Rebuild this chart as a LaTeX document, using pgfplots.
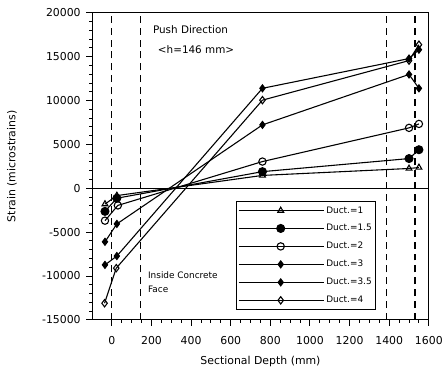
\documentclass[border=0pt]{standalone}
\usepackage{fontspec}
\setmainfont{DejaVu Sans}
\usepackage{pgfplots}
\pgfplotsset{compat=1.18}
\begin{document}
\begin{tikzpicture}[font=\fontsize{11}{13}\selectfont]
\begin{axis}[
  width=340pt, height=310pt, scale only axis,
  xmin=-100, xmax=1600, ymin=-15000, ymax=20000,
  xtick={0,200,...,1600}, ytick={-15000,-10000,...,20000},
  minor x tick num=3, minor y tick num=4,
  tick align=outside, tick pos=left,
  major tick length=6pt, minor tick length=3pt,
  scaled y ticks=false,
  /pgf/number format/assume math mode=true,
  /pgf/number format/set thousands separator={},
  xticklabel style={yshift=-7pt},
  yticklabel style={xshift=-2pt},
  xlabel={Sectional Depth (mm)}, ylabel={Strain (microstrains)},
  xlabel style={font=\fontsize{11}{13}\selectfont, at={(axis description cs:0.5,-0.135)}, anchor=center},
  ylabel style={font=\fontsize{11}{13}\selectfont, at={(axis description cs:-0.238,0.5)}, anchor=center},
  axis line style={line width=1.1pt},
  every tick/.style={black, line width=1pt},
  legend style={at={(0.426,0.387)}, anchor=north west, font=\fontsize{9}{11}\selectfont,
    row sep=6pt, draw=black, line width=1.1pt, inner xsep=2pt, inner ysep=3pt},
  legend cell align=left,
  legend image code/.code={\path (0pt,0pt) -- (86pt,0pt);
    \draw[mark repeat=2,mark phase=2] plot coordinates {(8pt,0pt)(42.5pt,0pt)(77pt,0pt)};},
  clip=false,
]
\path (axis description cs:0,0) ++(-93pt,-54pt) coordinate (bbA);
\path (axis description cs:1,1) ++(13pt,13pt) coordinate (bbB);
\draw[line width=1.1pt] (axis cs:-100,0) -- (axis cs:1600,0);
\foreach \xx in {0,146,1384,1530} {
  \edef\temp{\noexpand\draw[dash pattern=on 7pt off 5pt, line width=1.1pt] (axis cs:\xx,-15000) -- (axis cs:\xx,20000);}
  \temp
}
\addplot[black, line width=1.1pt, mark=triangle, mark size=3.4pt, mark options={solid, fill=white}]
  coordinates {(-35,-1800)(25,-830)(760,1470)(1500,2260)(1550,2370)};
\addlegendentry{Duct.=1}
\addplot[black, line width=1.1pt, mark=*, mark size=4pt, mark options={solid, fill=black}]
  coordinates {(-35,-2630)(25,-1130)(760,1900)(1500,3390)(1550,4400)};
\addlegendentry{Duct.=1.5}
\addplot[black, line width=1.1pt, mark=o, mark size=3.7pt, mark options={solid}]
  coordinates {(-35,-3690)(30,-1950)(760,3050)(1500,6890)(1550,7340)};
\addlegendentry{Duct.=2}
\addplot[black, line width=1.1pt, mark=diamond*, mark size=3.5pt, mark options={solid, fill=black}]
  coordinates {(-35,-6100)(25,-4060)(760,7230)(1500,12980)(1550,11400)};
\addlegendentry{Duct.=3}
\addplot[black, line width=1.1pt, mark=diamond*, mark size=3.5pt, mark options={solid, fill=black}]
  coordinates {(-35,-8730)(25,-7720)(760,11400)(1500,14790)(1550,15800)};
\addlegendentry{Duct.=3.5}
\addplot[black, line width=1.1pt, mark=diamond, mark size=3.7pt, mark options={solid, fill=white}]
  coordinates {(-37,-13100)(22,-9100)(760,10050)(1500,14560)(1550,16370)};
\addlegendentry{Duct.=4}
\node[anchor=west, font=\fontsize{10.5}{12}\selectfont] at (axis cs:190,18100) {Push Direction};
\node[anchor=west, font=\fontsize{10.5}{12}\selectfont] at (axis cs:215,15800) {<h=146 mm>};
\node[anchor=west, font=\fontsize{9}{11}\selectfont] at (axis cs:165,-9930) {Inside Concrete};
\node[anchor=west, font=\fontsize{9}{11}\selectfont] at (axis cs:165,-11500) {Face};
\end{axis}
\path[use as bounding box] (bbA) rectangle (bbB);
\end{tikzpicture}
\end{document}
